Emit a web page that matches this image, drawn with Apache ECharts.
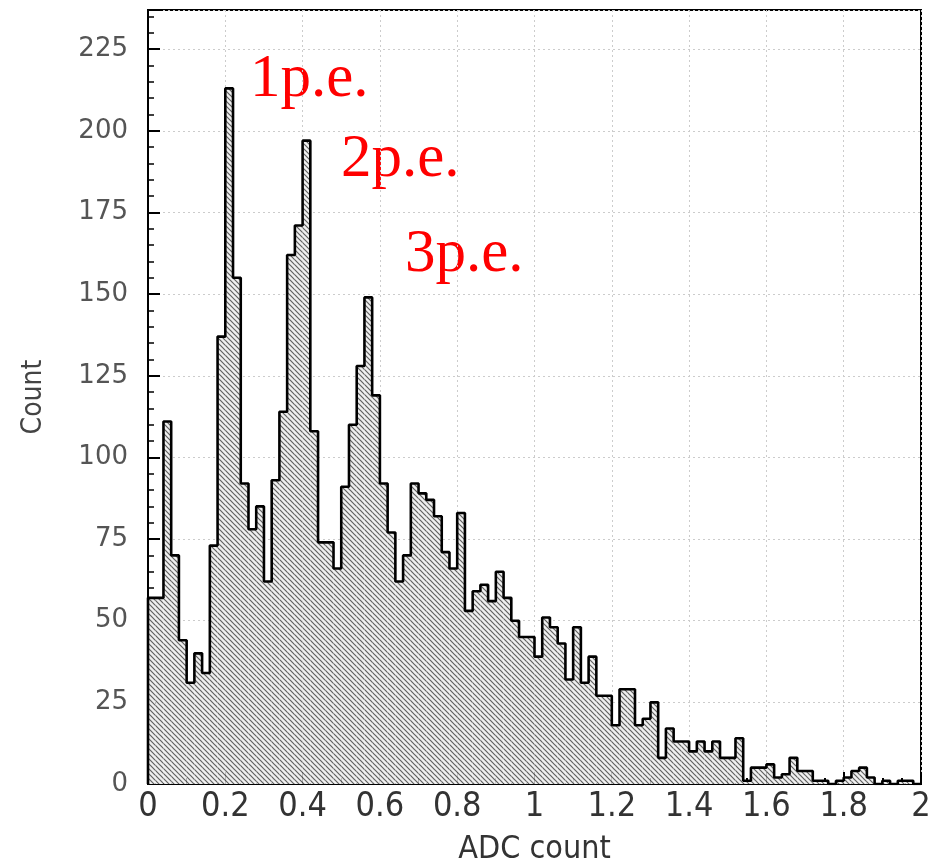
<!DOCTYPE html>
<html>
<head>
<meta charset="utf-8">
<title>ADC count</title>
<script src="https://cdn.jsdelivr.net/npm/echarts@6/dist/echarts.min.js"></script>
<style>
  html, body { margin: 0; padding: 0; background: #fff; }
  #chart { width: 942px; height: 864px; }
</style>
</head>
<body>
<div id="chart"></div>
<script>
// histogram: 100 bins of width 0.02 starting at 0
var binStart = 0
var binWidth = 0.02
var counts = [
  57, 57, 111, 70, 44, 31, 40, 34, 73, 137,
  213, 155, 92, 78, 85, 62, 93, 114, 162, 171,
  197, 108, 74, 74, 66, 91, 110, 128, 149, 119,
  92, 77, 62, 70, 92, 89, 87, 82, 71, 66,
  83, 53, 59, 61, 56, 65, 57, 50, 45, 45,
  39, 51, 48, 43, 32, 48, 31, 39, 27, 27,
  18, 29, 29, 18, 20, 25, 8, 17, 13, 13,
  10, 13, 10, 13, 8, 8, 14, 1, 5, 5,
  6, 2, 3, 8, 4, 4, 1, 1, 0, 1,
  2, 4, 5, 2, 0, 1, 0, 1, 1, 0
]
var peakLabels = ['1p.e.', '2p.e.', '3p.e.']

// hatch fill like the ROOT style
function makeHatch() {
  var n = 5
  var c = document.createElement('canvas')
  c.width = n
  c.height = n
  var g = c.getContext('2d')
  g.fillStyle = '#efefef'
  g.fillRect(0, 0, n, n)
  g.strokeStyle = '#606060'
  g.lineWidth = 1.2
  g.beginPath()
  g.moveTo(-1, -1); g.lineTo(n + 1, n + 1)
  g.moveTo(-n - 1, -1); g.lineTo(1, n + 1)
  g.moveTo(n - 1, -1); g.lineTo(2 * n + 1, n + 1)
  g.stroke()
  return c
}
var hatch = { image: makeHatch(), repeat: 'repeat' }

var bins = counts.map(function (v, i) {
  var lo = binStart + i * binWidth
  return [lo, lo + binWidth, v]
})
var outline = [[binStart, 0]]
counts.forEach(function (v, i) {
  outline.push([binStart + i * binWidth, v])
})
outline.push([binStart + counts.length * binWidth, 0])

var chart = echarts.init(document.getElementById('chart'))
var labelFont = '"Liberation Sans Narrow", "DejaVu Sans Condensed", "Liberation Sans", sans-serif'
var peakFont = '61px "Liberation Serif", "DejaVu Serif", serif'

chart.setOption({
  animation: false,
  grid: {
    left: 148,
    right: 21,
    top: 10,
    bottom: 80,
    outerBoundsMode: 'none',
    containLabel: false,
    show: true,
    borderColor: '#000',
    borderWidth: 2
  },
  xAxis: {
    type: 'value',
    min: 0,
    max: 2,
    interval: 0.2,
    name: 'ADC count',
    nameLocation: 'middle',
    nameGap: 50,
    nameTextStyle: { fontSize: 32, color: '#333', fontFamily: labelFont },
    axisLine: { lineStyle: { color: '#000', width: 2 } },
    axisTick: { inside: true, length: 12, lineStyle: { color: '#000', width: 2 } },
    minorTick: { show: true, splitNumber: 4, length: 6, lineStyle: { color: '#000', width: 2 } },
    axisLabel: {
      fontSize: 34, color: '#333', margin: 6, fontFamily: labelFont,
      showMaxLabel: true
    },
    splitLine: { show: true, lineStyle: { color: '#ccc', type: [2, 3], width: 1 } }
  },
  yAxis: {
    type: 'value',
    min: 0,
    max: 237,
    interval: 25,
    name: 'Count',
    nameLocation: 'middle',
    nameGap: 100,
    nameTextStyle: { fontSize: 28, color: '#444', fontFamily: labelFont },
    axisLine: { show: true, lineStyle: { color: '#000', width: 2 } },
    axisTick: { show: true, inside: true, length: 12, lineStyle: { color: '#000', width: 2 } },
    minorTick: { show: true, splitNumber: 5, length: 6, lineStyle: { color: '#000', width: 1.5 } },
    axisLabel: {
      fontSize: 26, color: '#555', margin: 20,
      fontFamily: '"DejaVu Sans", sans-serif',
      showMaxLabel: false
    },
    splitLine: { show: true, lineStyle: { color: '#ccc', type: [2, 3], width: 1 } }
  },
  series: [
    {
      type: 'custom',
      data: bins,
      encode: { x: [0, 1], y: 2 },
      renderItem: function (params, api) {
        var p0 = api.coord([api.value(0), api.value(2)])
        var p1 = api.coord([api.value(1), 0])
        return {
          type: 'rect',
          shape: { x: p0[0], y: p0[1], width: p1[0] - p0[0], height: p1[1] - p0[1] },
          style: { fill: hatch }
        }
      },
      z: 2
    },
    {
      type: 'line',
      step: 'end',
      data: outline,
      symbol: 'none',
      lineStyle: { color: '#000', width: 2.6 },
      z: 3
    }
  ],
  graphic: [
    { type: 'text', x: 250, y: 49, style: { text: peakLabels[0], font: peakFont, fill: '#f00' } },
    { type: 'text', x: 341, y: 129, style: { text: peakLabels[1], font: peakFont, fill: '#f00' } },
    { type: 'text', x: 405, y: 224, style: { text: peakLabels[2], font: peakFont, fill: '#f00' } }
  ]
})
</script>
</body>
</html>
